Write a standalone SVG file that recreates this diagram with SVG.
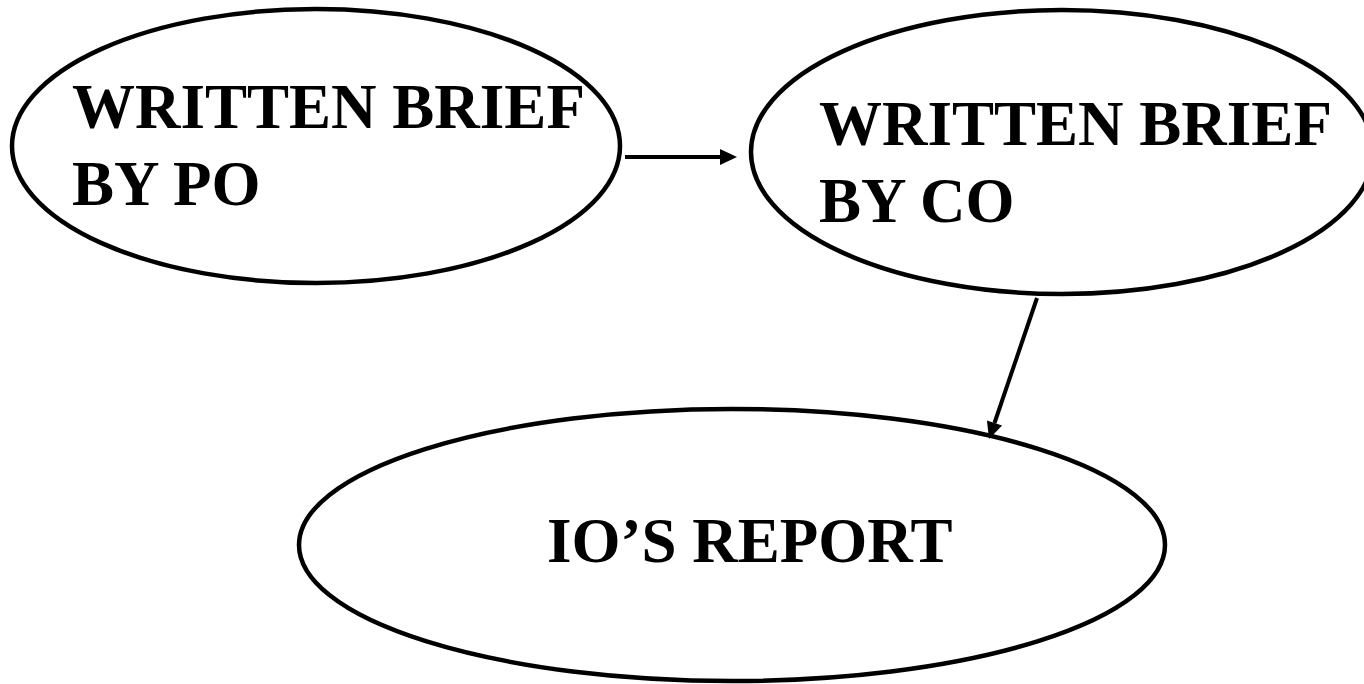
<svg xmlns="http://www.w3.org/2000/svg" width="1364" height="684" viewBox="0 0 1364 684">
<style>
.node{fill:#fff;stroke:#000;stroke-width:4.5}
.lbl{font-family:"Liberation Serif","Times New Roman",serif;font-weight:bold;font-size:63px;fill:#000}
.edge{stroke:#000;stroke-width:4;fill:none}
</style>
<defs>
<marker id="arr" markerUnits="userSpaceOnUse" markerWidth="18" markerHeight="18" refX="0" refY="8" orient="auto" overflow="visible">
<path d="M0,0 L17,8 L0,16 z" fill="#000"/>
</marker>
</defs>
<rect width="1364" height="684" fill="#fff"/>
<g id="node-po">
<ellipse class="node" cx="316" cy="146" rx="304" ry="137"/>
<text class="lbl" x="72" y="128">WRITTEN BRIEF</text>
<text class="lbl" x="72" y="205">BY PO</text>
</g>
<g id="node-co">
<ellipse class="node" cx="1062" cy="152" rx="311" ry="142"/>
<text class="lbl" x="819" y="145">WRITTEN BRIEF</text>
<text class="lbl" x="819" y="222">BY CO</text>
</g>
<g id="node-io">
<ellipse class="node" cx="732" cy="545" rx="433" ry="136"/>
<text class="lbl" x="547" y="562">IO’S REPORT</text>
</g>
<g id="connectors">
<line class="edge" x1="625" y1="157" x2="720" y2="157" marker-end="url(#arr)"/>
<line class="edge" x1="1037" y1="298" x2="994.5" y2="423" marker-end="url(#arr)"/>
</g>
</svg>
